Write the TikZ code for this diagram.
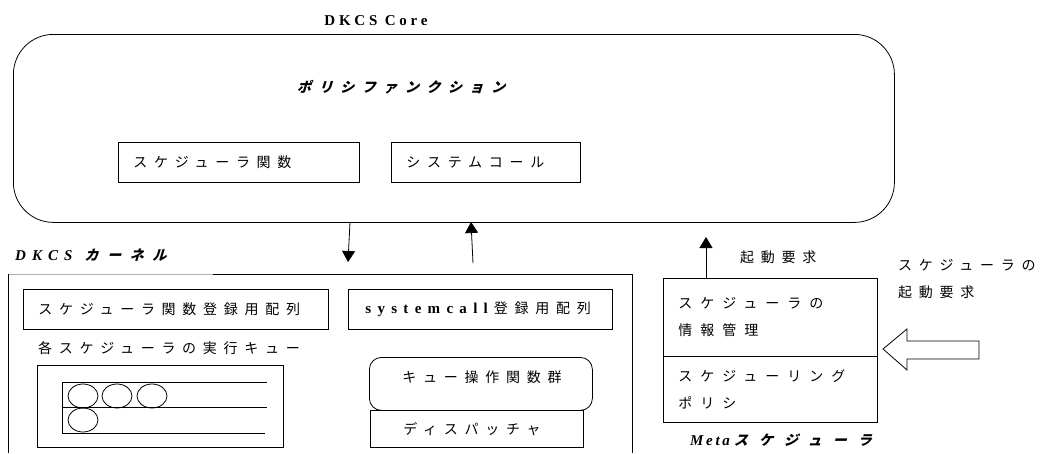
\documentclass[tikz,border=0pt]{standalone}
\usepackage{fontspec}
\usetikzlibrary{arrows.meta}
\setmainfont{Liberation Serif}
\newfontfamily\jp[LetterSpace=48]{Noto Sans CJK JP}
\newfontfamily\jpw[LetterSpace=57]{Noto Sans CJK JP}
\newfontfamily\jpbi[LetterSpace=54,FakeSlant=0.3]{Noto Sans CJK JP}
\newfontfamily\jpbik[LetterSpace=62,FakeSlant=0.3]{Noto Sans CJK JP}
\newfontfamily\jpbiw[LetterSpace=78,FakeSlant=0.3]{Noto Sans CJK JP}
\newfontfamily\lsb[LetterSpace=25]{Liberation Serif}
\newfontfamily\lsbs[LetterSpace=42]{Liberation Serif}
\newfontfamily\lsbi[LetterSpace=40]{Liberation Serif}
\newfontfamily\lsbim[LetterSpace=18]{Liberation Serif}
\tikzset{
  jptext/.style={font=\jp\fontsize{14}{27}\selectfont},
  jpwide/.style={font=\jpw\fontsize{14}{27}\selectfont},
  titletext/.style={font=\jpbi\bfseries\fontsize{14}{16}\selectfont},
  box/.style={draw, line width=0.8pt, anchor=north west, inner xsep=15pt, inner ysep=0pt, align=left, jptext},
  line/.style={line width=0.8pt},
  arr/.style={line width=0.8pt, -{Triangle[length=11pt,width=13pt]}},
}
\begin{document}
\begin{tikzpicture}[x=1pt,y=-1pt]
\useasboundingbox (0,0) rectangle (1041,453);
% DKCS Core
\node[font=\lsb\bfseries\fontsize{15}{17}\selectfont] (coretitle) at (376,21) {DKCS Core};
\node[draw, line width=0.8pt, rounded corners=40pt, anchor=north west, minimum width=881, minimum height=188, inner sep=0pt] (core) at (13,34) {};
\node[titletext] (policy) at (401,87) {ポリシファンクション};
\node[box, minimum width=241, minimum height=40, text width=211] (schedfn) at (118,142) {スケジューラ関数};
\node[box, minimum width=189, minimum height=40, text width=159] (syscall) at (391,142) {システムコール};
% arrows core <-> kernel
\coordinate (d1) at (350,222);
\coordinate (d2) at (348,262);
\coordinate (u1) at (473,263);
\coordinate (u2) at (471,222);
\draw[arr] (d1) -- (d2);
\draw[arr] (u1) -- (u2);
% DKCS kernel
\node[anchor=west, inner sep=0pt] (kerneltitle) at (15,255) {{\lsbi\bfseries\itshape\fontsize{15}{17}\selectfont DKCS}\hspace{12pt}{\jpbik\bfseries\fontsize{14}{16}\selectfont カーネル}};
\coordinate (k1) at (8,453);
\coordinate (k2) at (8,274);
\coordinate (k3) at (213,274);
\coordinate (k4) at (632,274);
\coordinate (k5) at (632,453);
\draw[line, gray!60] (k1) -- (k2) -- (k3);
\draw[line] (k3) -- (k4) -- (k5);
\draw[line] (k1) -- (k2);
\node[box, minimum width=305, minimum height=40, text width=275] (schedarr) at (23,289) {スケジューラ関数登録用配列};
\node[box, minimum width=264, minimum height=40, text width=230, inner xsep=17pt] (sysarr) at (348,289) {{\lsbs\bfseries\fontsize{15}{17}\selectfont systemcall}\hspace*{6pt}登録用配列};
\node[jptext, anchor=west, inner sep=0pt] (runq) at (38,348) {各スケジューラの実行キュー};
\node[draw, line width=0.8pt, anchor=north west, minimum width=246, minimum height=82, inner sep=0pt] (qbox) at (37,365) {};
\draw[line] (62,382) -- (62,433);
\draw[line] (62,382) -- (267,382);
\draw[line] (62,407) -- (267,407);
\draw[line] (62,433) -- (265,433);
\foreach \cx/\cy in {83/396, 117/396, 152/396, 83/420}
  \draw[line] (\cx,\cy) ellipse [x radius=15, y radius=12];
\node[draw, line width=0.8pt, rounded corners=12pt, anchor=north west, minimum width=223, minimum height=53, inner sep=0pt] (qops) at (369,357) {};
\node[jptext, inner sep=0pt] (qopstext) at (482,377) {キュー操作関数群};
\node[box, minimum width=213, minimum height=37, text width=147, inner xsep=33pt] (disp) at (370,410) {ディスパッチャ};
% Meta scheduler
\coordinate (m1) at (706,278);
\coordinate (m2) at (706,237);
\draw[arr] (m1) -- (m2);
\node[jptext, anchor=west, inner sep=0pt] (kidou1) at (740,257) {起動要求};
\node[box, jpwide, minimum width=214, minimum height=78, text width=184, inner xsep=15pt] (info) at (663,278) {スケジューラの\\情報管理};
\node[box, jpwide, minimum width=214, minimum height=66, text width=184, inner xsep=15pt] (pol) at (663,356) {スケジューリング\\ポリシ};
\node[anchor=west, inner sep=0pt] (metatitle) at (690,440) {{\lsbim\bfseries\itshape\fontsize{15}{17}\selectfont Meta}\hspace{4pt}{\jpbiw\bfseries\fontsize{14}{16}\selectfont スケジューラ}};
\node[jptext, anchor=north west, inner sep=0pt, align=left] (req) at (898,259) {スケジューラの\\起動要求};
% hollow arrow
\draw[line] (883,349) -- (907,329) -- (907,341) -- (979,341) -- (979,359) -- (907,359) -- (907,370) -- cycle;
\end{tikzpicture}
\end{document}
